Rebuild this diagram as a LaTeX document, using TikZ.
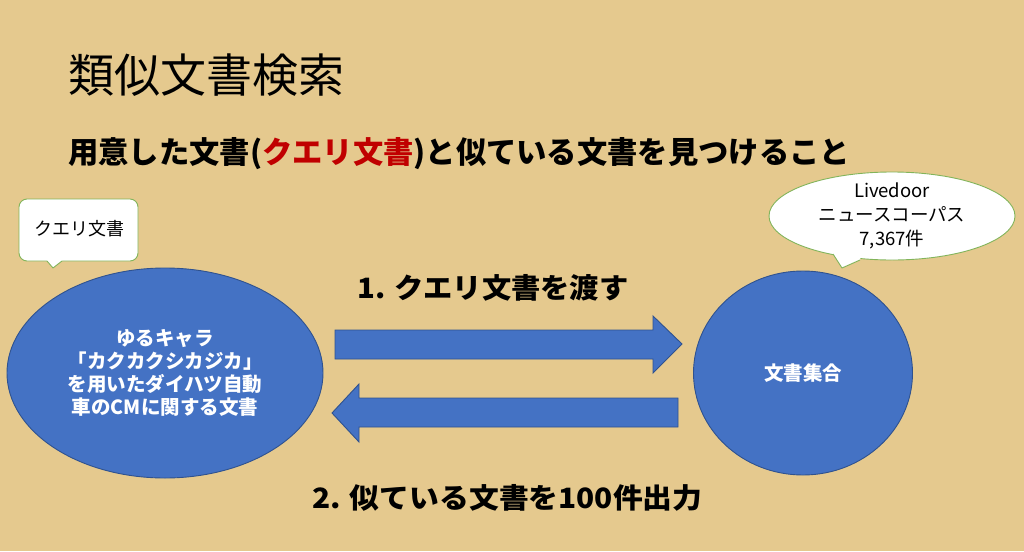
\documentclass[tikz,border=0pt]{standalone}
\usepackage{fontspec}
\usepackage{graphicx}
\newfontfamily\jp{Noto Sans CJK JP}
\usetikzlibrary{shapes.geometric}
\definecolor{paper}{RGB}{229,201,142}
\definecolor{blobfill}{RGB}{68,114,196}
\definecolor{blobline}{RGB}{47,82,143}
\definecolor{callgreen}{RGB}{130,180,90}
\definecolor{qred}{RGB}{192,0,0}
\tikzset{
  blob/.style={ellipse, fill=blobfill, draw=blobline, line width=0.9pt, text=white, font=\jp\bfseries\fontsize{19.5}{23}\selectfont, align=center, inner sep=0pt},
  callout/.style={fill=white, draw=callgreen, line width=0.9pt},
  bigarrow/.style={fill=blobfill, draw=blobline, line width=0.9pt},
  lbl/.style={font=\jp\bfseries\fontsize{28}{32}\selectfont, inner sep=0pt, anchor=west}
}
\begin{document}
\begin{tikzpicture}[x=1pt,y=-1pt]
\useasboundingbox (0,0) rectangle (1024,551);
\fill[paper] (0,0) rectangle (1024,551);
% title
\node[font=\jp\fontsize{46}{50}\selectfont, anchor=west, inner sep=0pt] (title) at (68,75) {類似文書検索};
\node[font=\jp\bfseries\fontsize{30.3}{36}\selectfont, anchor=west, inner sep=0pt] (sub) at (68,154) {用意した文書(\textcolor{qred}{クエリ文書})と似ている文書を見つけること};
% callout rectangle
\draw[callout, rounded corners=8pt] (19,199) rectangle (138,261);
\fill[white] (47,256) -- (47,261) -- (53,268) -- (62,261) -- (62,256) -- cycle;
\draw[callgreen, line width=0.9pt, line join=round] (47,261) -- (53,268) -- (62,261);
\node[font=\jp\fontsize{18}{22}\selectfont, inner sep=0pt] (qlabel) at (79,229) {クエリ文書};
% callout ellipse
\node[ellipse, callout, minimum width=246pt, minimum height=88pt, inner sep=0pt] (corp) at (892,216) {};
\fill[white] (833,254) -- (842,268) -- (860,260) -- (862,250) -- (833,246) -- cycle;
\draw[callgreen, line width=0.9pt, line join=round] (833,254) -- (842,268) -- (860,260);
\node[font=\jp\fontsize{18.5}{24}\selectfont, align=center, inner sep=0pt] (corptext) at (892,216) {Livedoor\\ニュースコーパス\\7,367件};
% ellipses
\node[blob, minimum width=316pt, minimum height=210pt] (query) at (165,373) {ゆるキャラ\\「カクカクシカジカ」\\を用いたダイハツ自動\\車のCMに関する文書};
\node[blob, minimum width=219pt, minimum height=204pt] (docs) at (803,373) {文書集合};
% arrows
\draw[bigarrow, line join=miter] (335,330) -- (653,330) -- (653,316) -- (682,344) -- (653,373) -- (653,359) -- (335,359) -- cycle;
\draw[bigarrow, line join=miter] (678,398) -- (359,398) -- (359,384) -- (332,413) -- (359,442) -- (359,427) -- (678,427) -- cycle;
% labels
\node[lbl] (l1) at (357,288) {\scalebox{1.046}[1]{1. クエリ文書を渡す}};
\node[lbl] (l2) at (312,498) {\scalebox{1.065}[1]{2. 似ている文書を100件出力}};
\end{tikzpicture}
\end{document}
